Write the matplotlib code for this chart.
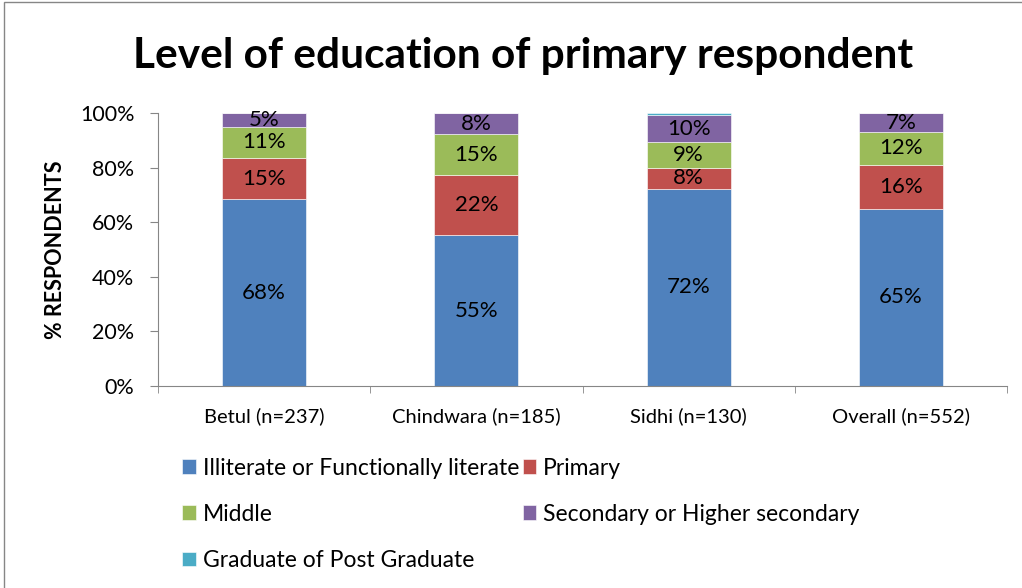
import matplotlib
matplotlib.use("Agg")
import matplotlib.pyplot as plt
import numpy as np
from matplotlib.patches import Rectangle

plt.rcParams["font.family"] = ["Lato", "DejaVu Sans"]

categories = ["Betul (n=237)", "Chindwara (n=185)", "Sidhi (n=130)", "Overall (n=552)"]
series_names = ["Illiterate or Functionally literate", "Primary", "Middle",
                "Secondary or Higher secondary", "Graduate of Post Graduate"]
illiterate = [68.4, 55.2, 72.3, 65.0]
primary = [15.2, 22.0, 7.7, 16.0]
middle = [11.4, 15.1, 9.2, 12.0]
secondary = [5.0, 7.7, 10.0, 7.0]
graduate = [0.0, 0.0, 0.8, 0.0]
colors = ["#4F81BD", "#C0504D", "#9BBB59", "#8064A2", "#4BACC6"]

series = [illiterate, primary, middle, secondary, graduate]

fig = plt.figure(figsize=(10.22, 5.88), dpi=100)
ax = fig.add_axes([158 / 1022, 1 - 386 / 588, 849 / 1022, 273 / 588])

x = np.arange(len(categories))
bottom = np.zeros(len(categories))
for name, vals, c in zip(series_names, series, colors):
    vals = np.array(vals)
    ax.bar(x, vals, width=0.396, bottom=bottom, color=c, label=name,
           edgecolor="white", linewidth=0.4)
    for xi, b, v in zip(x, bottom, vals):
        if v >= 2:
            ax.text(xi, b + v / 2, f"{v:.0f}%", ha="center", va="center",
                    fontsize=16, color="black")
    bottom += vals

ax.set_xlim(-0.5, 3.5)
ax.set_ylim(0, 100)
ax.set_yticks(np.arange(0, 101, 20))
ax.set_yticklabels([f"{v}%" for v in range(0, 101, 20)], fontsize=15.5)
ax.set_xticks(x)
ax.set_xticklabels(categories, fontsize=14.5)
ax.set_xticks(np.arange(-0.5, 3.6, 1), minor=True)
ax.tick_params(axis="x", which="major", length=0, pad=15)
ax.tick_params(axis="x", which="minor", length=5, color="#868686")
ax.tick_params(axis="y", length=6, color="#868686", pad=11)
for s in ["top", "right"]:
    ax.spines[s].set_visible(False)
for s in ["left", "bottom"]:
    ax.spines[s].set_color("#868686")
ax.set_ylabel("% RESPONDENTS", fontsize=15.5, fontweight="bold", labelpad=10)

fig.text(0.512, 0.905, "Level of education of primary respondent",
         ha="center", va="center", fontsize=30.5, fontweight="bold")

# legend filled row by row like the original
handles, labels = ax.get_legend_handles_labels()
order = [0, 2, 4, 1, 3]
fig.legend([handles[i] for i in order], [labels[i] for i in order],
           loc="upper left", bbox_to_anchor=(0.158, 0.257),
           ncol=2, frameon=False, fontsize=16.5, handlelength=0.6,
           handleheight=0.6, handletextpad=0.3, columnspacing=0.15,
           labelspacing=1.1)

fig.patches.append(Rectangle((4 / 1022, -0.1), 1.2, 1.1 - 2 / 588,
                             transform=fig.transFigure, fill=False,
                             edgecolor="#868686", linewidth=1))

fig.savefig("out.png", dpi=100)
